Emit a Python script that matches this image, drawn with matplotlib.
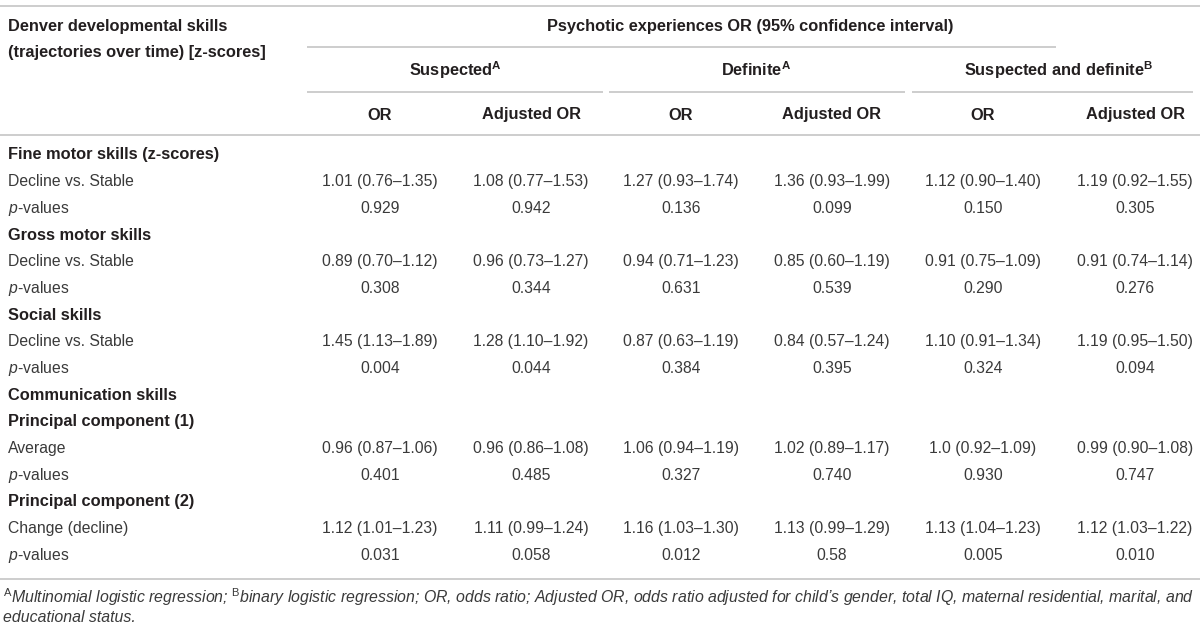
import matplotlib
matplotlib.use("Agg")
import matplotlib.pyplot as plt

plt.rcParams['font.family'] = ['Liberation Sans', 'DejaVu Sans']
plt.rcParams['mathtext.fontset'] = 'custom'
plt.rcParams['mathtext.rm'] = 'Liberation Sans'
plt.rcParams['mathtext.it'] = 'Liberation Sans:italic'
plt.rcParams['mathtext.bf'] = 'Liberation Sans:bold'

# table content
row_labels = ["Fine motor skills (z-scores)", "Decline vs. Stable", "p-values",
              "Gross motor skills", "Decline vs. Stable", "p-values",
              "Social skills", "Decline vs. Stable", "p-values",
              "Communication skills", "Principal component (1)", "Average", "p-values",
              "Principal component (2)", "Change (decline)", "p-values"]
row_bold = [1, 0, 0, 1, 0, 0, 1, 0, 0, 1, 1, 0, 0, 1, 0, 0]

suspected_or = ["", "1.01 (0.76–1.35)", "0.929", "", "0.89 (0.70–1.12)", "0.308",
                "", "1.45 (1.13–1.89)", "0.004", "", "", "0.96 (0.87–1.06)", "0.401",
                "", "1.12 (1.01–1.23)", "0.031"]
suspected_adj = ["", "1.08 (0.77–1.53)", "0.942", "", "0.96 (0.73–1.27)", "0.344",
                 "", "1.28 (1.10–1.92)", "0.044", "", "", "0.96 (0.86–1.08)", "0.485",
                 "", "1.11 (0.99–1.24)", "0.058"]
definite_or = ["", "1.27 (0.93–1.74)", "0.136", "", "0.94 (0.71–1.23)", "0.631",
               "", "0.87 (0.63–1.19)", "0.384", "", "", "1.06 (0.94–1.19)", "0.327",
               "", "1.16 (1.03–1.30)", "0.012"]
definite_adj = ["", "1.36 (0.93–1.99)", "0.099", "", "0.85 (0.60–1.19)", "0.539",
                "", "0.84 (0.57–1.24)", "0.395", "", "", "1.02 (0.89–1.17)", "0.740",
                "", "1.13 (0.99–1.29)", "0.58"]
both_or = ["", "1.12 (0.90–1.40)", "0.150", "", "0.91 (0.75–1.09)", "0.290",
           "", "1.10 (0.91–1.34)", "0.324", "", "", "1.0 (0.92–1.09)", "0.930",
           "", "1.13 (1.04–1.23)", "0.005"]
both_adj = ["", "1.19 (0.92–1.55)", "0.305", "", "0.91 (0.74–1.14)", "0.276",
            "", "1.19 (0.95–1.50)", "0.094", "", "", "0.99 (0.90–1.08)", "0.747",
            "", "1.12 (1.03–1.22)", "0.010"]

groups = [r"Suspected$^{\mathbf{A}}$", r"Definite$^{\mathbf{A}}$",
          r"Suspected and definite$^{\mathbf{B}}$"]
sub_headers = ["OR", "Adjusted OR"] * 3
columns = [suspected_or, suspected_adj, definite_or, definite_adj, both_or, both_adj]

# layout (pixel coords)
col_x = [380, 531, 681, 832, 983, 1135]
row_y0, row_dy = 155, 26.67
fs = 11.3
fsb = 11.8
dark = '#231f20'
body = '#3a3a3a'
rule = '#c9c9c9'

fig = plt.figure(figsize=(12, 6.27), dpi=100)
ax = fig.add_axes([0, 0, 1, 1])
ax.set_xlim(0, 1200)
ax.set_ylim(627, 0)
ax.axis('off')

def hline(y, x0, x1):
    ax.plot([x0, x1], [y, y], color=rule, lw=1.3, solid_capstyle='butt')

hline(6, 0, 1200)
hline(47, 307, 1056)
hline(92, 307, 603)
hline(92, 609, 905)
hline(92, 912, 1193)
hline(135, 0, 1200)
hline(579, 0, 1200)

ax.text(8, 27, "Denver developmental skills", fontsize=fsb, fontweight='bold',
        color=dark, va='center')
ax.text(8, 52, "(trajectories over time) [z-scores]", fontsize=fsb, fontweight='bold',
        color=dark, va='center')
ax.text(750, 27, "Psychotic experiences OR (95% confidence interval)", fontsize=fsb,
        fontweight='bold', color=dark, va='center', ha='center')

for i, g in enumerate(groups):
    cx = (col_x[2 * i] + col_x[2 * i + 1]) / 2
    ax.text(cx, 70, g, fontsize=fsb, fontweight='bold', color=dark,
            va='center', ha='center')
for x, h in zip(col_x, sub_headers):
    ax.text(x, 115, h, fontsize=fsb, fontweight='bold', color=dark,
            va='center', ha='center')

for r, (lab, b) in enumerate(zip(row_labels, row_bold)):
    y = row_y0 + r * row_dy
    if lab == "p-values":
        lab = r"$\mathit{p}$-values"
    ax.text(8, y, lab, fontsize=fsb if b else fs, fontweight='bold' if b else 'normal',
            color=dark if b else body, va='center')
    for x, col in zip(col_x, columns):
        if col[r]:
            ax.text(x, y, col[r], fontsize=fs, color=body, va='center', ha='center')

ax.text(3, 597, r"$^{\mathrm{A}}$Multinomial logistic regression; $^{\mathrm{B}}$binary logistic "
        "regression; OR, odds ratio; Adjusted OR, odds ratio adjusted for child’s gender, "
        "total IQ, maternal residential, marital, and",
        fontsize=11.4, style='italic', color=body, va='center')
ax.text(3, 618, "educational status.", fontsize=11.4, style='italic',
        color=body, va='center')

fig.savefig("out.png", dpi=100, facecolor='white')
